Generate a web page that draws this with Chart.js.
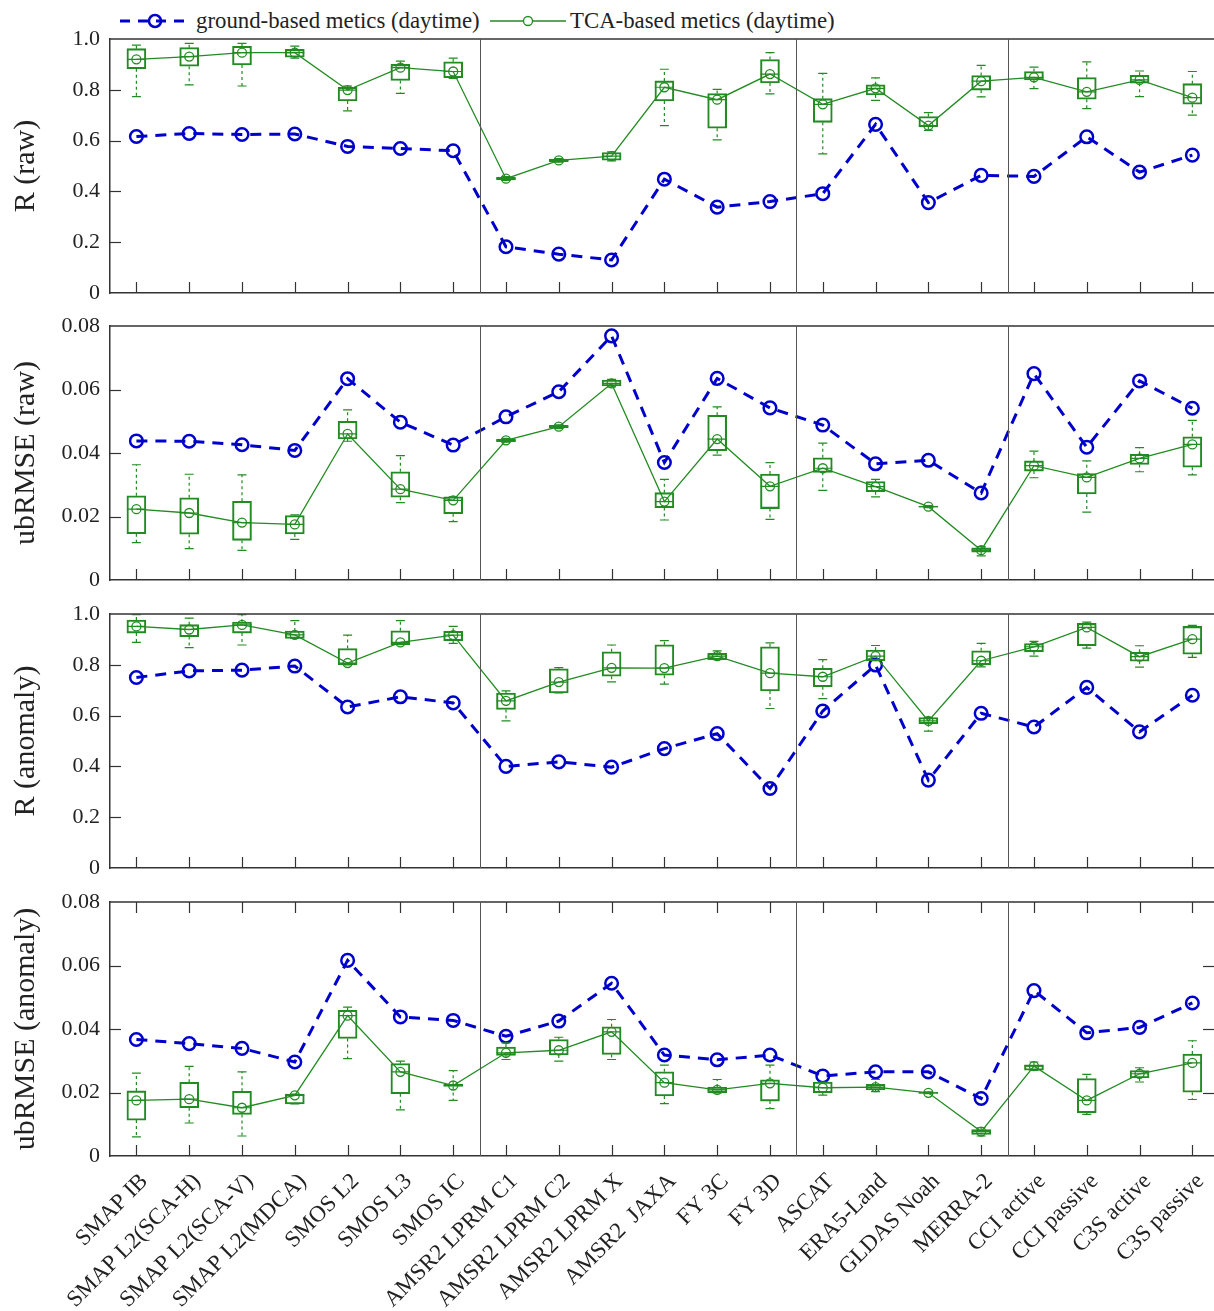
<!DOCTYPE html>
<html>
<head>
<meta charset="utf-8">
<script src="https://cdn.jsdelivr.net/npm/chart.js@4.4.1/dist/chart.umd.min.js"></script>
<style>
  html, body { margin: 0; padding: 0; background: #fff; overflow: hidden; }
  body { width: 1214px; height: 1311px; position: relative; }
  .panel { position: absolute; left: 0; width: 1214px; }
  .panel canvas { display: block; }
  .lg { position: absolute; font-family: 'Liberation Serif', 'DejaVu Serif', serif; font-size: 22.8px; line-height: 22px; color: #222; white-space: nowrap; }
  svg { position: absolute; }
</style>
</head>
<body>

<svg style="left:118px;top:11px" width="76" height="20">
  <line x1="2" y1="10" x2="74" y2="10" stroke="#0000cc" stroke-width="3" stroke-dasharray="10,8"/>
  <circle cx="37" cy="10" r="6" fill="none" stroke="#0000cc" stroke-width="2.5"/>
</svg>
<div class="lg" style="left:196px;top:10px">ground-based metics (daytime)</div>
<svg style="left:489px;top:11px" width="78" height="20">
  <line x1="1" y1="10" x2="77" y2="10" stroke="#228b22" stroke-width="1.3"/>
  <circle cx="39" cy="10" r="4.5" fill="#fff" stroke="#228b22" stroke-width="1.3"/>
</svg>
<div class="lg" style="left:570px;top:10px">TCA-based metics (daytime)</div>

<div class="panel" style="top:0px;height:300px"><canvas id="c1" width="1214" height="300"></canvas></div>
<div class="panel" style="top:296px;height:290px"><canvas id="c2" width="1214" height="290"></canvas></div>
<div class="panel" style="top:584px;height:290px"><canvas id="c3" width="1214" height="290"></canvas></div>
<div class="panel" style="top:872px;height:439px"><canvas id="c4" width="1214" height="439"></canvas></div>

<script>
// produits évalués (axe x)
const products = ['SMAP IB', 'SMAP L2(SCA-H)', 'SMAP L2(SCA-V)', 'SMAP L2(MDCA)', 'SMOS L2', 'SMOS L3', 'SMOS IC',
  'AMSR2 LPRM C1', 'AMSR2 LPRM C2', 'AMSR2 LPRM X', 'AMSR2  JAXA', 'FY 3C', 'FY 3D', 'ASCAT', 'ERA5-Land',
  'GLDAS Noah', 'MERRA-2', 'CCI active', 'CCI passive', 'C3S active', 'C3S passive'];
const groupBreaks = [7.5, 13.5, 17.5];

// R (raw)
const rRawGround = [0.616, 0.628, 0.624, 0.626, 0.577, 0.569, 0.560, 0.182, 0.153, 0.130, 0.448, 0.338, 0.360, 0.391, 0.664, 0.356, 0.463, 0.459, 0.615, 0.476, 0.543];
const rRawTca = [0.920, 0.931, 0.946, 0.946, 0.799, 0.887, 0.872, 0.450, 0.522, 0.539, 0.810, 0.761, 0.862, 0.743, 0.806, 0.659, 0.834, 0.849, 0.792, 0.839, 0.769];
const rRawQ1 = [0.883, 0.893, 0.898, 0.928, 0.756, 0.837, 0.848, 0.445, 0.517, 0.523, 0.756, 0.649, 0.827, 0.672, 0.780, 0.655, 0.799, 0.839, 0.763, 0.826, 0.743];
const rRawQ3 = [0.962, 0.966, 0.971, 0.959, 0.810, 0.900, 0.910, 0.456, 0.527, 0.553, 0.835, 0.785, 0.919, 0.765, 0.820, 0.695, 0.856, 0.872, 0.848, 0.857, 0.824];
const rRawLo = [0.773, 0.819, 0.815, 0.925, 0.717, 0.786, 0.845, 0.443, 0.515, 0.520, 0.659, 0.603, 0.784, 0.548, 0.758, 0.640, 0.772, 0.805, 0.726, 0.773, 0.700];
const rRawHi = [0.976, 0.983, 0.983, 0.972, 0.815, 0.913, 0.925, 0.458, 0.529, 0.556, 0.881, 0.802, 0.946, 0.865, 0.847, 0.710, 0.896, 0.889, 0.910, 0.874, 0.872];

// ubRMSE (raw)
const ubRawGround = [0.0438, 0.0437, 0.0426, 0.0408, 0.0634, 0.0497, 0.0425, 0.0514, 0.0593, 0.0769, 0.0370, 0.0635, 0.0542, 0.0488, 0.0366, 0.0377, 0.0274, 0.0650, 0.0418, 0.0627, 0.0541];
const ubRawTca = [0.0223, 0.0211, 0.0181, 0.0175, 0.0460, 0.0286, 0.0251, 0.0440, 0.0483, 0.0619, 0.0247, 0.0444, 0.0295, 0.0352, 0.0294, 0.0231, 0.0094, 0.0360, 0.0323, 0.0383, 0.0427];
const ubRawQ1 = [0.0146, 0.0144, 0.0125, 0.0145, 0.0444, 0.0261, 0.0209, 0.0436, 0.0479, 0.0611, 0.0228, 0.0407, 0.0225, 0.0339, 0.0278, 0.0229, 0.0088, 0.0343, 0.0271, 0.0364, 0.0355];
const ubRawQ3 = [0.0265, 0.0259, 0.0248, 0.0203, 0.0500, 0.0341, 0.0262, 0.0444, 0.0487, 0.0630, 0.0275, 0.0519, 0.0334, 0.0385, 0.0310, 0.0233, 0.0101, 0.0375, 0.0335, 0.0396, 0.0451];
const ubRawLo = [0.0118, 0.0099, 0.0093, 0.0128, 0.0437, 0.0244, 0.0184, 0.0434, 0.0477, 0.0608, 0.0189, 0.0393, 0.0191, 0.0282, 0.0262, 0.0228, 0.0076, 0.0322, 0.0214, 0.0341, 0.0331];
const ubRawHi = [0.0363, 0.0333, 0.0331, 0.0205, 0.0536, 0.0392, 0.0262, 0.0446, 0.0489, 0.0632, 0.0317, 0.0545, 0.0370, 0.0431, 0.0317, 0.0234, 0.0105, 0.0406, 0.0375, 0.0417, 0.0503];

// R (anomaly)
const rAnomGround = [0.750, 0.776, 0.779, 0.795, 0.634, 0.674, 0.650, 0.400, 0.418, 0.397, 0.470, 0.529, 0.313, 0.618, 0.799, 0.346, 0.609, 0.555, 0.711, 0.536, 0.680];
const rAnomTca = [0.951, 0.939, 0.957, 0.918, 0.807, 0.888, 0.917, 0.658, 0.732, 0.788, 0.787, 0.834, 0.767, 0.753, 0.834, 0.579, 0.816, 0.871, 0.947, 0.832, 0.901];
const rAnomQ1 = [0.925, 0.911, 0.925, 0.904, 0.800, 0.879, 0.895, 0.624, 0.689, 0.755, 0.759, 0.820, 0.697, 0.714, 0.816, 0.568, 0.800, 0.851, 0.875, 0.814, 0.842];
const rAnomQ3 = [0.976, 0.958, 0.968, 0.933, 0.864, 0.934, 0.932, 0.689, 0.784, 0.851, 0.879, 0.845, 0.871, 0.786, 0.858, 0.592, 0.855, 0.884, 0.963, 0.849, 0.951];
const rAnomLo = [0.888, 0.868, 0.878, 0.904, 0.800, 0.879, 0.884, 0.579, 0.689, 0.733, 0.724, 0.820, 0.628, 0.667, 0.816, 0.539, 0.792, 0.834, 0.866, 0.791, 0.829];
const rAnomHi = [0.997, 0.984, 0.997, 0.974, 0.917, 0.974, 0.951, 0.697, 0.789, 0.878, 0.895, 0.855, 0.886, 0.820, 0.876, 0.592, 0.884, 0.892, 0.968, 0.875, 0.955];

// ubRMSE (anomaly)
const ubAnomGround = [0.0367, 0.0354, 0.0339, 0.0296, 0.0616, 0.0438, 0.0427, 0.0377, 0.0425, 0.0544, 0.0318, 0.0303, 0.0318, 0.0252, 0.0265, 0.0265, 0.0181, 0.0521, 0.0388, 0.0405, 0.0482];
const ubAnomTca = [0.0175, 0.0179, 0.0152, 0.0191, 0.0442, 0.0265, 0.0222, 0.0325, 0.0333, 0.0391, 0.0231, 0.0208, 0.0229, 0.0215, 0.0217, 0.0199, 0.0077, 0.0283, 0.0175, 0.0259, 0.0293];
const ubAnomQ1 = [0.0113, 0.0152, 0.0131, 0.0164, 0.0370, 0.0196, 0.0219, 0.0317, 0.0318, 0.0320, 0.0189, 0.0199, 0.0173, 0.0199, 0.0208, 0.0197, 0.0068, 0.0270, 0.0136, 0.0246, 0.0201];
const ubAnomQ3 = [0.0205, 0.0232, 0.0204, 0.0195, 0.0459, 0.0291, 0.0226, 0.0343, 0.0367, 0.0407, 0.0265, 0.0217, 0.0240, 0.0233, 0.0226, 0.0201, 0.0083, 0.0287, 0.0244, 0.0269, 0.0321];
const ubAnomLo = [0.0060, 0.0104, 0.0063, 0.0164, 0.0307, 0.0145, 0.0175, 0.0304, 0.0299, 0.0304, 0.0165, 0.0199, 0.0149, 0.0192, 0.0203, 0.0196, 0.0063, 0.0270, 0.0131, 0.0233, 0.0178];
const ubAnomHi = [0.0261, 0.0282, 0.0265, 0.0195, 0.0469, 0.0299, 0.0269, 0.0356, 0.0374, 0.0430, 0.0286, 0.0241, 0.0286, 0.0233, 0.0241, 0.0202, 0.0089, 0.0296, 0.0257, 0.0278, 0.0363];

const FONT = "'Liberation Serif', 'DejaVu Serif', serif";
const BLUE = '#0000cc';
const GREEN = '#228b22';
const AXIS = '#333';

// cadre, graduations internes et séparateurs de groupes
const framePlugin = {
  id: 'frame',
  afterDraw(chart, args, opts) {
    const ctx = chart.ctx, a = chart.chartArea;
    const x = chart.scales.x, y = chart.scales.y;
    ctx.save();
    ctx.strokeStyle = AXIS;
    ctx.lineWidth = 1.5;
    ctx.beginPath();
    ctx.moveTo(a.left, a.top); ctx.lineTo(a.right, a.top);
    ctx.stroke();
    ctx.lineWidth = 1;
    ctx.strokeStyle = '#555';
    groupBreaks.forEach(b => {
      const px = Math.round(x.getPixelForValue(b)) + 0.5;
      ctx.beginPath(); ctx.moveTo(px, a.top); ctx.lineTo(px, a.bottom); ctx.stroke();
    });
    ctx.strokeStyle = AXIS;
    ctx.lineWidth = 1.2;
    products.forEach((p, i) => {
      const px = Math.round(x.getPixelForValue(i + 1)) + 0.5;
      ctx.beginPath(); ctx.moveTo(px, a.bottom); ctx.lineTo(px, a.bottom - 11); ctx.stroke();
      if (opts.mirror) {
        ctx.beginPath(); ctx.moveTo(px, a.top); ctx.lineTo(px, a.top + 11); ctx.stroke();
      }
    });
    y.ticks.forEach(t => {
      if (t.value <= y.min + 1e-9 || t.value >= y.max - 1e-9) return;
      const py = Math.round(y.getPixelForValue(t.value)) + 0.5;
      ctx.beginPath(); ctx.moveTo(a.left, py); ctx.lineTo(a.left + 11, py); ctx.stroke();
      if (opts.mirror) {
        ctx.beginPath(); ctx.moveTo(a.right, py); ctx.lineTo(a.right - 11, py); ctx.stroke();
      }
    });
    ctx.restore();
  }
};

// moustaches et médianes des boîtes TCA
const whiskerPlugin = {
  id: 'whiskers',
  afterDatasetsDraw(chart, args, opts) {
    const ctx = chart.ctx;
    const x = chart.scales.x, y = chart.scales.y;
    ctx.save();
    ctx.strokeStyle = GREEN;
    ctx.lineWidth = 1.2;
    opts.mid.forEach((m, i) => {
      const px = x.getPixelForValue(i + 1);
      const yLo = y.getPixelForValue(opts.lo[i]), yHi = y.getPixelForValue(opts.hi[i]);
      const yQ1 = y.getPixelForValue(opts.q1[i]), yQ3 = y.getPixelForValue(opts.q3[i]);
      const yM = y.getPixelForValue(m);
      ctx.setLineDash([3, 3]);
      ctx.beginPath();
      ctx.moveTo(px, yQ3); ctx.lineTo(px, yHi);
      ctx.moveTo(px, yQ1); ctx.lineTo(px, yLo);
      ctx.stroke();
      ctx.setLineDash([]);
      ctx.beginPath();
      ctx.moveTo(px - 4.5, yHi); ctx.lineTo(px + 4.5, yHi);
      ctx.moveTo(px - 4.5, yLo); ctx.lineTo(px + 4.5, yLo);
      ctx.moveTo(px - 9.5, yM); ctx.lineTo(px + 9.5, yM);
      ctx.stroke();
    });
    ctx.restore();
  }
};

function pts(arr) {
  return arr.map((v, i) => ({ x: i + 1, y: v }));
}

function makePanel(id, p) {
  const last = !!p.last;
  new Chart(document.getElementById(id), {
    type: 'line',
    data: {
      datasets: [
        {
          label: 'TCA-based metics (daytime)',
          data: pts(p.mid),
          borderColor: GREEN,
          borderWidth: 1.3,
          pointRadius: 4.5,
          pointBorderWidth: 1.3,
          pointBorderColor: GREEN,
          pointBackgroundColor: 'rgba(0,0,0,0)',
          tension: 0,
          order: 1
        },
        {
          type: 'bar',
          label: 'box',
          data: p.q1.map((v, i) => ({ x: i + 1, y: [v, p.q3[i]] })),
          backgroundColor: 'rgba(0,0,0,0)',
          borderColor: GREEN,
          borderWidth: 1.4,
          borderSkipped: false,
          barThickness: 19,
          order: 2
        },
        {
          label: 'ground-based metics (daytime)',
          data: pts(p.ground),
          borderColor: BLUE,
          borderWidth: 3,
          borderDash: [11, 8],
          pointRadius: 6.3,
          pointBorderWidth: 2.5,
          pointBorderColor: BLUE,
          pointBackgroundColor: 'rgba(0,0,0,0)',
          tension: 0,
          order: 3
        }
      ]
    },
    options: {
      responsive: false,
      animation: false,
      devicePixelRatio: 1,
      layout: { autoPadding: false, padding: { top: p.padTop, bottom: p.padBottom, left: 0, right: 0 } },
      plugins: {
        legend: { display: false },
        tooltip: { enabled: false },
        frame: { mirror: last },
        whiskers: { mid: p.mid, q1: p.q1, q3: p.q3, lo: p.lo, hi: p.hi }
      },
      scales: {
        x: {
          type: 'linear',
          min: 0.5,
          max: 21.41,
          offset: false,
          afterBuildTicks: s => { s.ticks = products.map((_, i) => ({ value: i + 1 })); },
          afterFit: s => { s.height = last ? 155 : 0; s.paddingLeft = 0; s.paddingRight = 0; },
          grid: { display: false, drawTicks: false },
          border: { display: true, color: AXIS, width: 1.6 },
          ticks: {
            display: last,
            autoSkip: false,
            minRotation: 45,
            maxRotation: 45,
            padding: 12,
            labelOffset: 8,
            color: '#222',
            font: { family: FONT, size: 23 },
            callback: v => products[Math.round(v) - 1]
          }
        },
        y: {
          min: 0,
          max: p.max,
          afterFit: s => { s.width = 110; s.paddingTop = 0; s.paddingBottom = 0; },
          grid: { display: false, drawTicks: false },
          border: { display: true, color: AXIS, width: 1.5 },
          ticks: {
            stepSize: p.step,
            padding: 10,
            color: '#222',
            font: { family: FONT, size: 22 },
            callback: v => Math.abs(v) < 1e-9 ? '0' : v.toFixed(p.digits)
          },
          title: {
            display: true,
            text: p.title,
            color: '#222',
            font: { family: FONT, size: 30 },
            padding: { top: 8, bottom: 0 }
          }
        }
      }
    },
    plugins: [whiskerPlugin, framePlugin]
  });
}

makePanel('c1', { title: 'R (raw)', max: 1, step: 0.2, digits: 1, padTop: 39, padBottom: 7,
  ground: rRawGround, mid: rRawTca, q1: rRawQ1, q3: rRawQ3, lo: rRawLo, hi: rRawHi });
makePanel('c2', { title: 'ubRMSE (raw)', max: 0.08, step: 0.02, digits: 2, padTop: 30, padBottom: 6,
  ground: ubRawGround, mid: ubRawTca, q1: ubRawQ1, q3: ubRawQ3, lo: ubRawLo, hi: ubRawHi });
makePanel('c3', { title: 'R (anomaly)', max: 1, step: 0.2, digits: 1, padTop: 30, padBottom: 6,
  ground: rAnomGround, mid: rAnomTca, q1: rAnomQ1, q3: rAnomQ3, lo: rAnomLo, hi: rAnomHi });
makePanel('c4', { title: 'ubRMSE (anomaly)', max: 0.08, step: 0.02, digits: 2, padTop: 30, padBottom: 0, last: true,
  ground: ubAnomGround, mid: ubAnomTca, q1: ubAnomQ1, q3: ubAnomQ3, lo: ubAnomLo, hi: ubAnomHi });
</script>
</body>
</html>
